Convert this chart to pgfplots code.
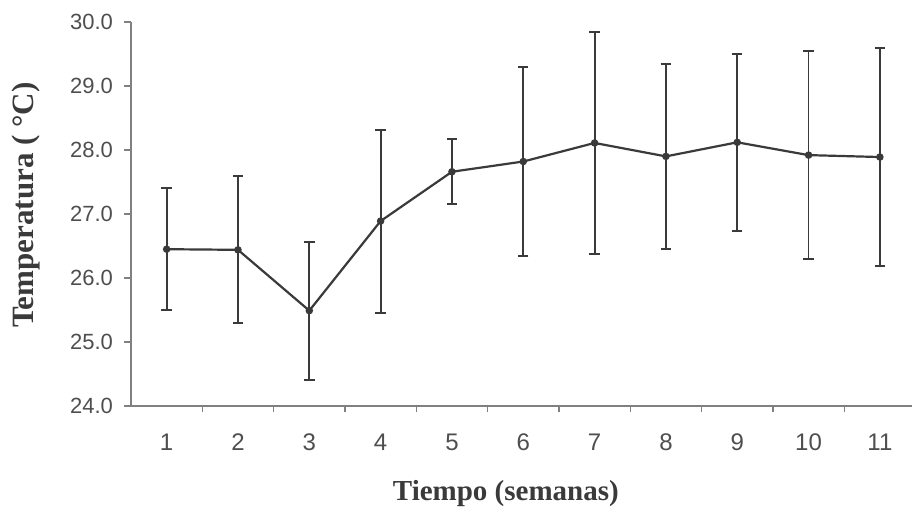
\documentclass[border=0pt]{standalone}
\usepackage{pgfplots}
\pgfplotsset{compat=1.18}
\usepackage{fontspec}
\setmainfont{Liberation Serif}
\newfontfamily\arialf{Liberation Sans}
\definecolor{ink}{HTML}{3A3A3A}
\definecolor{axgray}{HTML}{808080}
\begin{document}
\begin{tikzpicture}
\path[use as bounding box] (-65.5pt,-55.5pt) rectangle (390.5pt,203pt);
\begin{axis}[
  at={(0,0)}, anchor=south west,
  scale only axis, width=390.5pt, height=192pt,
  xmin=0.5, xmax=11.45, ymin=24, ymax=30,
  axis lines*=left,
  axis line style={axgray, line width=0.6pt},
  tick align=outside,
  xtick={1,...,11},
  minor x tick num=1,
  every major x tick/.append style={draw=none},
  every minor x tick/.append style={axgray, line width=0.6pt},
  minor tick length=3pt,
  ytick={24,25,...,30},
  every major y tick/.append style={axgray, line width=0.6pt},
  major tick length=3.5pt,
  /pgf/number format/assume math mode=true,
  yticklabel={\pgfmathprintnumber[fixed,fixed zerofill,precision=1]{\tick}},
  yticklabel style={font=\arialf\fontsize{11}{13}\selectfont, text=ink!90, xshift=-2pt},
  xticklabel style={font=\arialf\fontsize{12}{14}\selectfont, text=ink!90, yshift=-7pt},
  xlabel={Tiempo (semanas)},
  ylabel={Temperatura ( °C)},
  xlabel style={font=\bfseries\fontsize{14.5}{16}\selectfont, text=ink, at={(axis description cs:0.48,-0.227)}, anchor=center},
  ylabel style={font=\bfseries\fontsize{15.5}{17}\selectfont, text=ink, at={(axis description cs:-0.134,0.523)}, anchor=center, rotate=0},
  clip=false,
]
\addplot[ink, line width=1.1pt, mark=*, mark size=1.3pt,
  error bars/.cd, y dir=both, y explicit,
  error bar style={line width=0.9pt, ink},
  error mark options={rotate=90, line width=1pt, mark size=2.6pt, ink},
] coordinates {
  (1,26.45) +- (0,0.95)
  (2,26.44) +- (0,1.15)
  (3,25.49) +- (0,1.08)
  (4,26.89) +- (0,1.43)
  (5,27.66) +- (0,0.51)
  (6,27.82) +- (0,1.47)
  (7,28.11) +- (0,1.74)
  (8,27.90) +- (0,1.45)
  (9,28.12) +- (0,1.38)
  (10,27.92) +- (0,1.62)
  (11,27.89) +- (0,1.70)
};
\end{axis}
\end{tikzpicture}
\end{document}
